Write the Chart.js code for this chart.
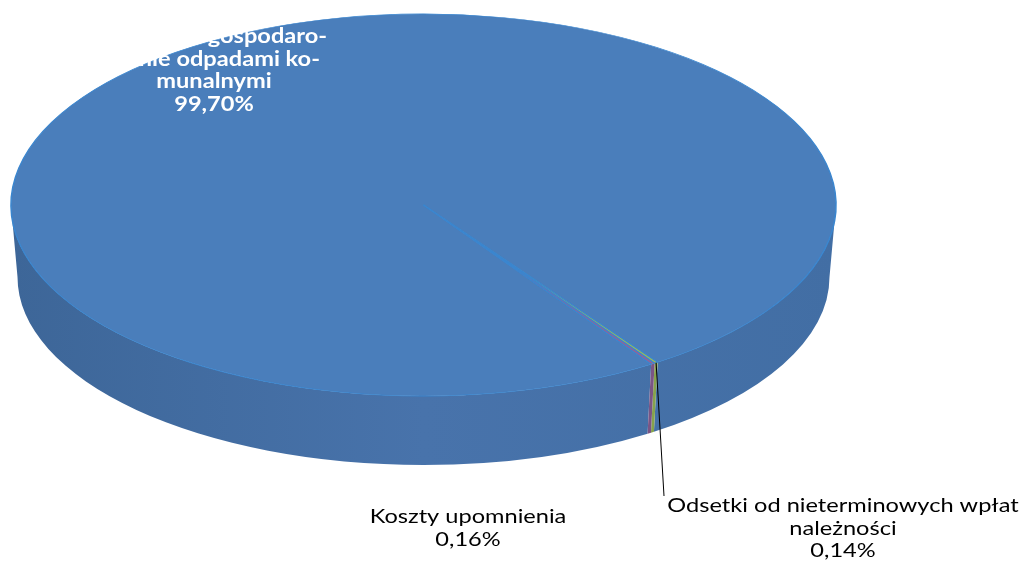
<!DOCTYPE html>
<html>
<head>
<meta charset="utf-8">
<script src="https://cdn.jsdelivr.net/npm/chart.js@4.4.0/dist/chart.umd.min.js"></script>
<style>
  html, body { margin: 0; padding: 0; background: #fff; }
</style>
</head>
<body>
<canvas id="myChart" width="1023" height="561"></canvas>
<script>
// data (clockwise order of the slices)
const categories = [
  ["Opłata za gospodaro-", "wanie odpadami ko-", "munalnymi"],
  ["Odsetki od nieterminowych wpłat", "należności"],
  ["Koszty upomnienia"]
];
const shares = [99.70, 0.14, 0.16];
const shareLabels = ["99,70%", "0,14%", "0,16%"];
const sliceColors = ["#4a7ebb", "#9bbb59", "#8f649a"];
const wallColors = ["#4672a9", "#86a34c", "#7a5585"];

// where the flattened pie sits on the page
const CX = 423.5, CY = 205, RX = 412.5, RY = 191, DEPTH = 72;
const RX2 = 406, RY2 = 188;
const STRETCH = 1.18;

function drawWall(ctx, s, e, color) {
  // only the front half (0..PI in canvas angles) is visible
  const TWO_PI = Math.PI * 2;
  for (let k = -1; k <= 2; k++) {
    const lo = Math.max(s, TWO_PI * k), hi = Math.min(e, TWO_PI * k + Math.PI);
    if (hi <= lo) continue;
    ctx.beginPath();
    ctx.ellipse(CX, CY, RX, RY, 0, lo, hi, false);
    ctx.lineTo(CX + RX2 * Math.cos(hi), CY + DEPTH + RY2 * Math.sin(hi));
    ctx.ellipse(CX, CY + DEPTH, RX2, RY2, 0, hi, lo, true);
    ctx.closePath();
    ctx.fillStyle = color;
    ctx.fill();
  }
}

function text(ctx, t, x, y) {
  ctx.save();
  ctx.translate(x, y);
  ctx.scale(STRETCH, 1);
  ctx.fillText(t, 0, 0);
  ctx.restore();
}

const pie3d = {
  id: 'pie3d',
  beforeDatasetsDraw(chart) {
    const ctx = chart.ctx;
    const arcs = chart.getDatasetMeta(0).data;
    const grad = ctx.createLinearGradient(CX - RX, 0, CX + RX, 0);
    grad.addColorStop(0, '#3d6698');
    grad.addColorStop(0.5, '#4873ab');
    grad.addColorStop(1, '#426ea4');
    arcs.forEach((arc, i) => {
      drawWall(ctx, arc.startAngle, arc.endAngle, i === 0 ? grad : wallColors[i]);
    });
    const a = arcs[0];
    ctx.save();
    ctx.translate(CX, CY);
    ctx.scale(RX / a.outerRadius, RY / a.outerRadius);
    ctx.translate(-a.x, -a.y);
  },
  afterDatasetsDraw(chart) {
    const ctx = chart.ctx;
    ctx.restore();
    const arcs = chart.getDatasetMeta(0).data;

    ctx.save();
    ctx.textAlign = 'center';
    ctx.textBaseline = 'middle';
    // main slice label (white, partly over the white background)
    ctx.fillStyle = '#ffffff';
    ctx.font = 'bold 20px Lato';
    categories[0].concat([shareLabels[0]]).forEach((t, j) => text(ctx, t, 214, 37 + j * 22.5));

    // small slices
    ctx.fillStyle = '#000000';
    ctx.font = '20px Lato';
    categories[2].concat([shareLabels[2]]).forEach((t, j) => text(ctx, t, 468, 517 + j * 22.5));
    categories[1].concat([shareLabels[1]]).forEach((t, j) => text(ctx, t, 843, 506 + j * 22.5));

    // leader line for the Odsetki slice
    const arc = arcs[1];
    const mid = (arc.startAngle + arc.endAngle) / 2;
    ctx.strokeStyle = '#000000';
    ctx.lineWidth = 1;
    ctx.beginPath();
    ctx.moveTo(CX + RX * Math.cos(mid), CY + RY * Math.sin(mid));
    ctx.lineTo(664, 496);
    ctx.stroke();
    ctx.restore();
  }
};

const ctx = document.getElementById('myChart').getContext('2d');
const myChart = new Chart(ctx, {
  type: 'pie',
  data: {
    labels: categories.map(c => c.join(' ')),
    datasets: [{
      data: shares,
      backgroundColor: sliceColors,
      borderColor: '#3a86cf',
      borderWidth: 1,
      clip: false
    }]
  },
  options: {
    responsive: false,
    animation: false,
    events: [],
    rotation: 146.5,
    layout: { padding: 0 },
    plugins: {
      legend: { display: false },
      tooltip: { enabled: false }
    }
  },
  plugins: [pie3d]
});
</script>
</body>
</html>
